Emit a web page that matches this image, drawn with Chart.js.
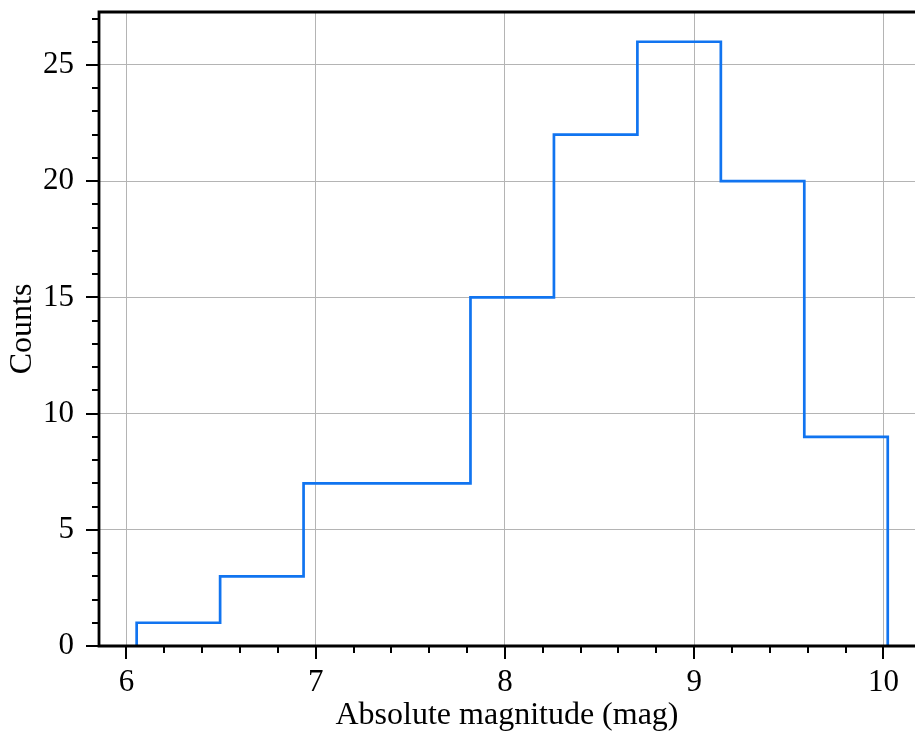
<!DOCTYPE html>
<html>
<head>
<meta charset="utf-8">
<script src="https://cdn.jsdelivr.net/npm/chart.js@4"></script>
<style>
  html, body { margin: 0; padding: 0; background: #fff; }
  #wrap { width: 915px; height: 732px; }
</style>
</head>
<body>
<div id="wrap"><canvas id="histChart"></canvas></div>
<script>
// histogram bin edges (mag) and counts per bin
const binEdges = [6.054, 6.495, 6.936, 7.377, 7.818, 8.259, 8.700, 9.141, 9.582, 10.023];
const counts = [1, 3, 7, 7, 15, 22, 26, 20, 9];
const xTicks = [6, 7, 8, 9, 10];
const yTicks = [0, 5, 10, 15, 20, 25];

// step outline: corners at every edge (previous count -> next count)
const outline = [];
binEdges.forEach((e, i) => {
    outline.push({ x: e, y: i > 0 ? counts[i - 1] : 0 });
    outline.push({ x: e, y: i < counts.length ? counts[i] : 0 });
});

const FONT = "'Liberation Serif', 'DejaVu Serif', serif";

// spines + major/minor outward ticks, drawn like matplotlib
const axesFrame = {
    id: 'axesFrame',
    afterDraw(chart) {
        const { ctx, chartArea: a, scales: { x, y } } = chart;
        ctx.save();
        ctx.strokeStyle = '#000';
        ctx.lineWidth = 2.8;
        ctx.beginPath();
        ctx.moveTo(a.left - 1.4, a.top); ctx.lineTo(a.right, a.top);
        ctx.moveTo(a.left, a.top); ctx.lineTo(a.left, a.bottom);
        ctx.moveTo(a.left - 1.4, a.bottom); ctx.lineTo(a.right, a.bottom);
        ctx.stroke();

        ctx.lineWidth = 2;
        ctx.beginPath();
        for (let v = Math.ceil(x.min * 5) / 5; v <= x.max; v += 0.2) {
            const px = Math.round(x.getPixelForValue(v));
            const major = Math.abs(v - Math.round(v)) < 1e-6;
            ctx.moveTo(px, a.bottom);
            ctx.lineTo(px, a.bottom + (major ? 13 : 7));
        }
        for (let v = 0; v <= y.max; v += 1) {
            const py = Math.round(y.getPixelForValue(v));
            ctx.moveTo(a.left, py);
            ctx.lineTo(a.left - (v % 5 === 0 ? 13 : 7), py);
        }
        ctx.stroke();
        ctx.restore();
    }
};

new Chart(document.getElementById('histChart'), {
    type: 'scatter',
    data: {
        datasets: [{
            data: outline,
            showLine: true,
            borderColor: '#1174f0',
            borderWidth: 2.7,
            pointRadius: 0,
            fill: false
        }]
    },
    options: {
        responsive: true,
        maintainAspectRatio: false,
        animation: false,
        layout: { padding: { left: 0, right: 0, top: 12, bottom: 0 } },
        plugins: {
            legend: { display: false },
            tooltip: { enabled: false }
        },
        scales: {
            x: {
                type: 'linear',
                min: 5.855,
                max: 10.167,
                afterFit: s => { s.height = 86; s.paddingLeft = 0; s.paddingRight = 0; },
                afterBuildTicks: s => { s.ticks = xTicks.map(v => ({ value: v })); },
                border: { display: false },
                grid: { color: '#b4b4b4', lineWidth: 1, drawTicks: false },
                ticks: {
                    padding: 18,
                    color: '#000',
                    font: { family: FONT, size: 31 }
                },
                title: {
                    display: true,
                    text: 'Absolute magnitude (mag)',
                    color: '#000',
                    font: { family: FONT, size: 32, lineHeight: 1 },
                    padding: { top: 0, bottom: 0 }
                }
            },
            y: {
                type: 'linear',
                min: 0,
                max: 27.28,
                afterFit: s => { s.width = 99; s.paddingTop = 0; s.paddingBottom = 0; },
                afterBuildTicks: s => { s.ticks = yTicks.map(v => ({ value: v })); },
                border: { display: false },
                grid: { color: '#b4b4b4', lineWidth: 1, drawTicks: false },
                ticks: {
                    padding: 25,
                    color: '#000',
                    font: { family: FONT, size: 31 }
                },
                title: {
                    display: true,
                    text: 'Counts',
                    color: '#000',
                    font: { family: FONT, size: 32, lineHeight: 1 },
                    padding: { top: 7, bottom: 0 }
                }
            }
        }
    },
    plugins: [axesFrame]
});
</script>
</body>
</html>
